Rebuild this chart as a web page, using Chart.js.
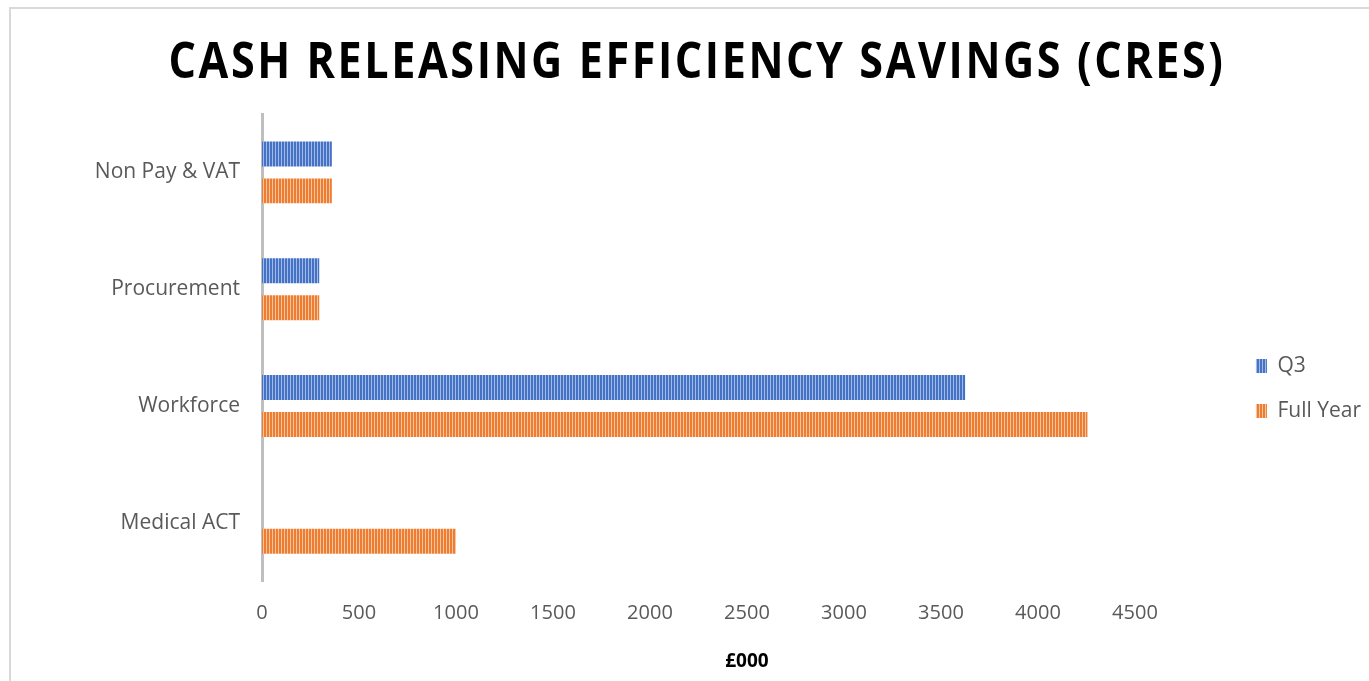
<!DOCTYPE html>
<html>
<head>
<meta charset="utf-8">
<script src="https://cdn.jsdelivr.net/npm/chart.js@4"></script>
<style>
  html, body { margin: 0; padding: 0; background: #fff; overflow: hidden; }
  #wrap { position: relative; width: 1369px; height: 681px; }
  #frame {
    position: absolute; left: 9px; top: 7px; right: 0; bottom: 0;
    border-top: 2px solid #d9d9d9; border-left: 2px solid #d9d9d9;
    pointer-events: none;
  }
</style>
</head>
<body>
<div id="wrap">
  <canvas id="cresChart" width="1369" height="681"></canvas>
  <div id="frame"></div>
</div>
<script>
const chartTitle = "CASH RELEASING EFFICIENCY SAVINGS (CRES)";
const axisTitle = "£000";
const categories = ["Non Pay & VAT", "Procurement", "Workforce", "Medical ACT"];
const seriesNames = ["Q3", "Full Year"];
const q3Values = [360, 295, 3625, 0];
const fullYearValues = [360, 295, 4255, 1000];
const tickStep = 500;
const lastTickShown = 4500;

const ctx = document.getElementById("cresChart").getContext("2d");

// striped fill like the Excel "vertical" pattern
function stripes(base, light) {
    const c = document.createElement("canvas");
    c.width = 3;
    c.height = 4;
    const p = c.getContext("2d");
    p.fillStyle = base;
    p.fillRect(0, 0, 3, 4);
    p.fillStyle = light;
    p.fillRect(2, 0, 1, 4);
    return ctx.createPattern(c, "repeat");
}

const bluePattern = stripes("#4472c4", "#a3bae6");
const orangePattern = stripes("#ed7d31", "#f8c4a0");

// big spaced title, drawn in the top padding
const titlePlugin = {
    id: "spacedTitle",
    afterDraw(chart) {
        const c = chart.ctx;
        c.save();
        c.font = "bold 50px 'Open Sans', 'DejaVu Sans', sans-serif";
        c.letterSpacing = "3px";
        c.fillStyle = "#000000";
        c.textAlign = "left";
        c.textBaseline = "alphabetic";
        const w = c.measureText(chartTitle).width;
        const target = 1057;
        const sx = Math.min(1, target / w);
        c.translate(697 - (w * sx) / 2, 78);
        c.scale(sx, 1);
        c.fillText(chartTitle, 0, 0);
        c.restore();
    }
};

new Chart(ctx, {
    type: "bar",
    data: {
        labels: categories,
        datasets: [
            {
                label: seriesNames[0],
                data: q3Values,
                backgroundColor: bluePattern,
                borderWidth: 0,
                categoryPercentage: 0.632,
                barPercentage: 0.676
            },
            {
                label: seriesNames[1],
                data: fullYearValues,
                backgroundColor: orangePattern,
                borderWidth: 0,
                categoryPercentage: 0.632,
                barPercentage: 0.676
            }
        ]
    },
    options: {
        indexAxis: "y",
        responsive: false,
        animation: false,
        layout: { padding: { top: 114, left: 0, right: -2, bottom: 18 } },
        scales: {
            x: {
                min: 0,
                max: 5000,
                ticks: {
                    stepSize: tickStep,
                    padding: 20,
                    color: "#595959",
                    font: { family: "'Open Sans', sans-serif", size: 20 },
                    callback: v => (v <= lastTickShown ? v : "")
                },
                grid: { display: false, drawTicks: false },
                border: { display: false },
                title: {
                    display: true,
                    text: axisTitle,
                    color: "#000000",
                    font: { family: "'Open Sans', sans-serif", size: 19, weight: "bold" },
                    padding: { top: 5, bottom: -10 }
                }
            },
            y: {
                ticks: {
                    padding: 22,
                    color: "#595959",
                    font: { family: "'Open Sans', sans-serif", size: 21 }
                },
                grid: { display: false, drawTicks: false },
                border: { display: true, color: "#bfbfbf", width: 3 },
                afterFit(scale) { scale.width = 262; }
            }
        },
        plugins: {
            title: { display: false },
            tooltip: { enabled: false },
            legend: {
                position: "right",
                labels: {
                    boxWidth: 11,
                    boxHeight: 14,
                    padding: 24,
                    color: "#595959",
                    font: { family: "'Open Sans', sans-serif", size: 21 }
                }
            }
        }
    },
    plugins: [titlePlugin]
});
</script>
</body>
</html>
